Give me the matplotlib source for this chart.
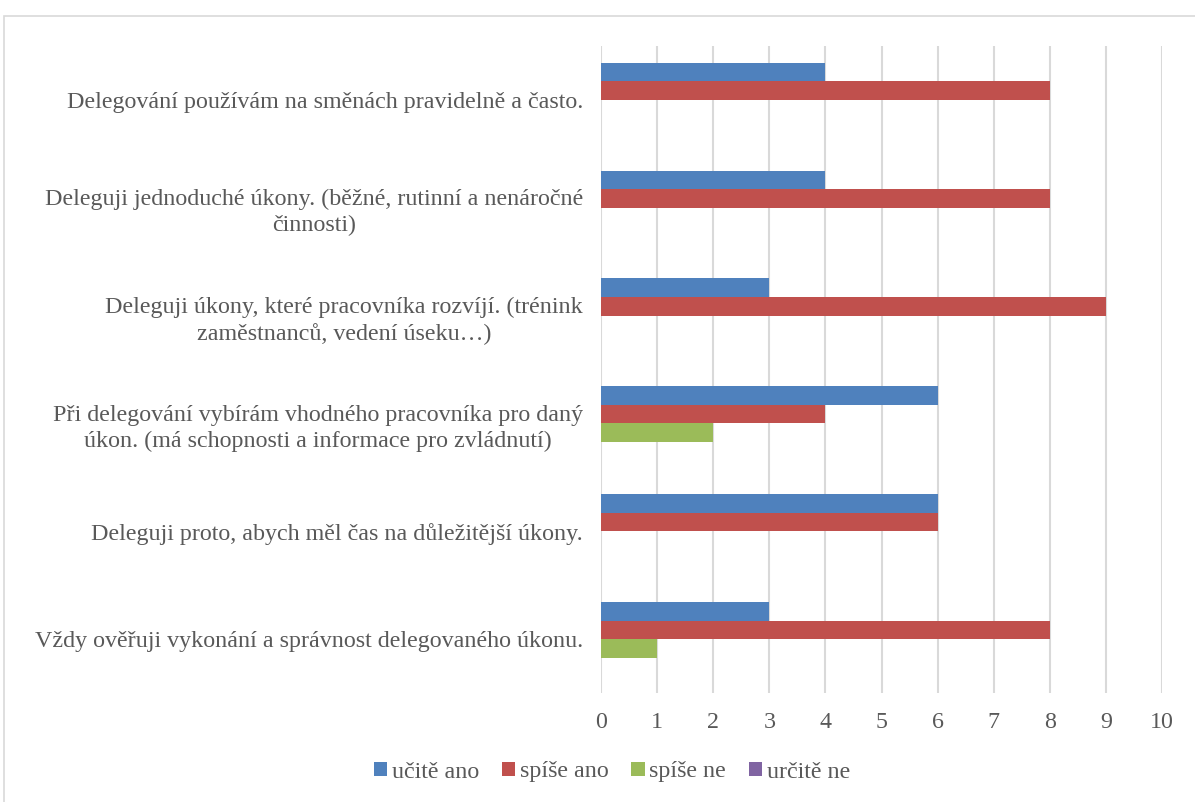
import numpy as np
import matplotlib.pyplot as plt
from matplotlib.patches import Rectangle

plt.rcParams['font.family'] = ['Liberation Serif', 'DejaVu Serif']

categories = [
    "Delegování používám na směnách pravidelně a často.",
    "Deleguji jednoduché úkony. (běžné, rutinní a nenáročné\nčinnosti)",
    "Deleguji úkony, které pracovníka rozvíjí. (trénink\nzaměstnanců, vedení úseku…)",
    "Při delegování vybírám vhodného pracovníka pro daný\núkon. (má schopnosti a informace pro zvládnutí)",
    "Deleguji proto, abych měl čas na důležitější úkony.",
    "Vždy ověřuji vykonání a správnost delegovaného úkonu.",
]
series_names = ["učitě ano", "spíše ano", "spíše ne", "určitě ne"]
ucite_ano = [4, 4, 3, 6, 6, 3]
spise_ano = [8, 8, 9, 4, 6, 8]
spise_ne = [0, 0, 0, 2, 0, 1]
urcite_ne = [0, 0, 0, 0, 0, 0]
colors = ["#4f81bd", "#c0504d", "#9bbb59", "#8064a2"]
text_color = "#595959"

W, H = 1195, 802
fig = plt.figure(figsize=(W / 100, H / 100), dpi=100)

# chart area border (light gray, runs off the right/bottom edge)
fig.patches.append(Rectangle((4 / W, -0.05), 1.1, 1 - 16 / H + 0.05,
                             transform=fig.transFigure, fill=False,
                             edgecolor="#d9d9d9", linewidth=1.2))

ax = fig.add_axes([601 / W, 1 - 693 / H, (1162 - 601) / W, (693 - 46) / H])

y = np.arange(len(categories))
h = 0.172
for i, (vals, name) in enumerate(zip([ucite_ano, spise_ano, spise_ne, urcite_ne], series_names)):
    ax.barh(y + (i - 1.5) * h, vals, height=h, color=colors[i], label=name)

ax.set_xlim(0, 10)
ax.set_ylim(len(categories) - 0.5, -0.5)
ax.set_xticks(range(11))
ax.set_yticks(y)
ax.set_yticklabels(categories, ha="right", multialignment="center", linespacing=1.3)
ax.xaxis.grid(True, color="#d9d9d9", linewidth=1.5)
ax.set_axisbelow(True)
for s in ax.spines.values():
    s.set_visible(False)
ax.tick_params(axis="both", length=0, labelsize=17.3, colors=text_color)
ax.tick_params(axis="y", pad=13)
ax.tick_params(axis="x", pad=14)

fig.legend(loc="center", bbox_to_anchor=(612 / W, 1 - 772 / H), ncol=4,
           frameon=False, fontsize=17.3, handlelength=0.55, handleheight=0.55,
           handletextpad=0.2, columnspacing=0.95, labelcolor=text_color)

fig.savefig("out.png", dpi=100)
